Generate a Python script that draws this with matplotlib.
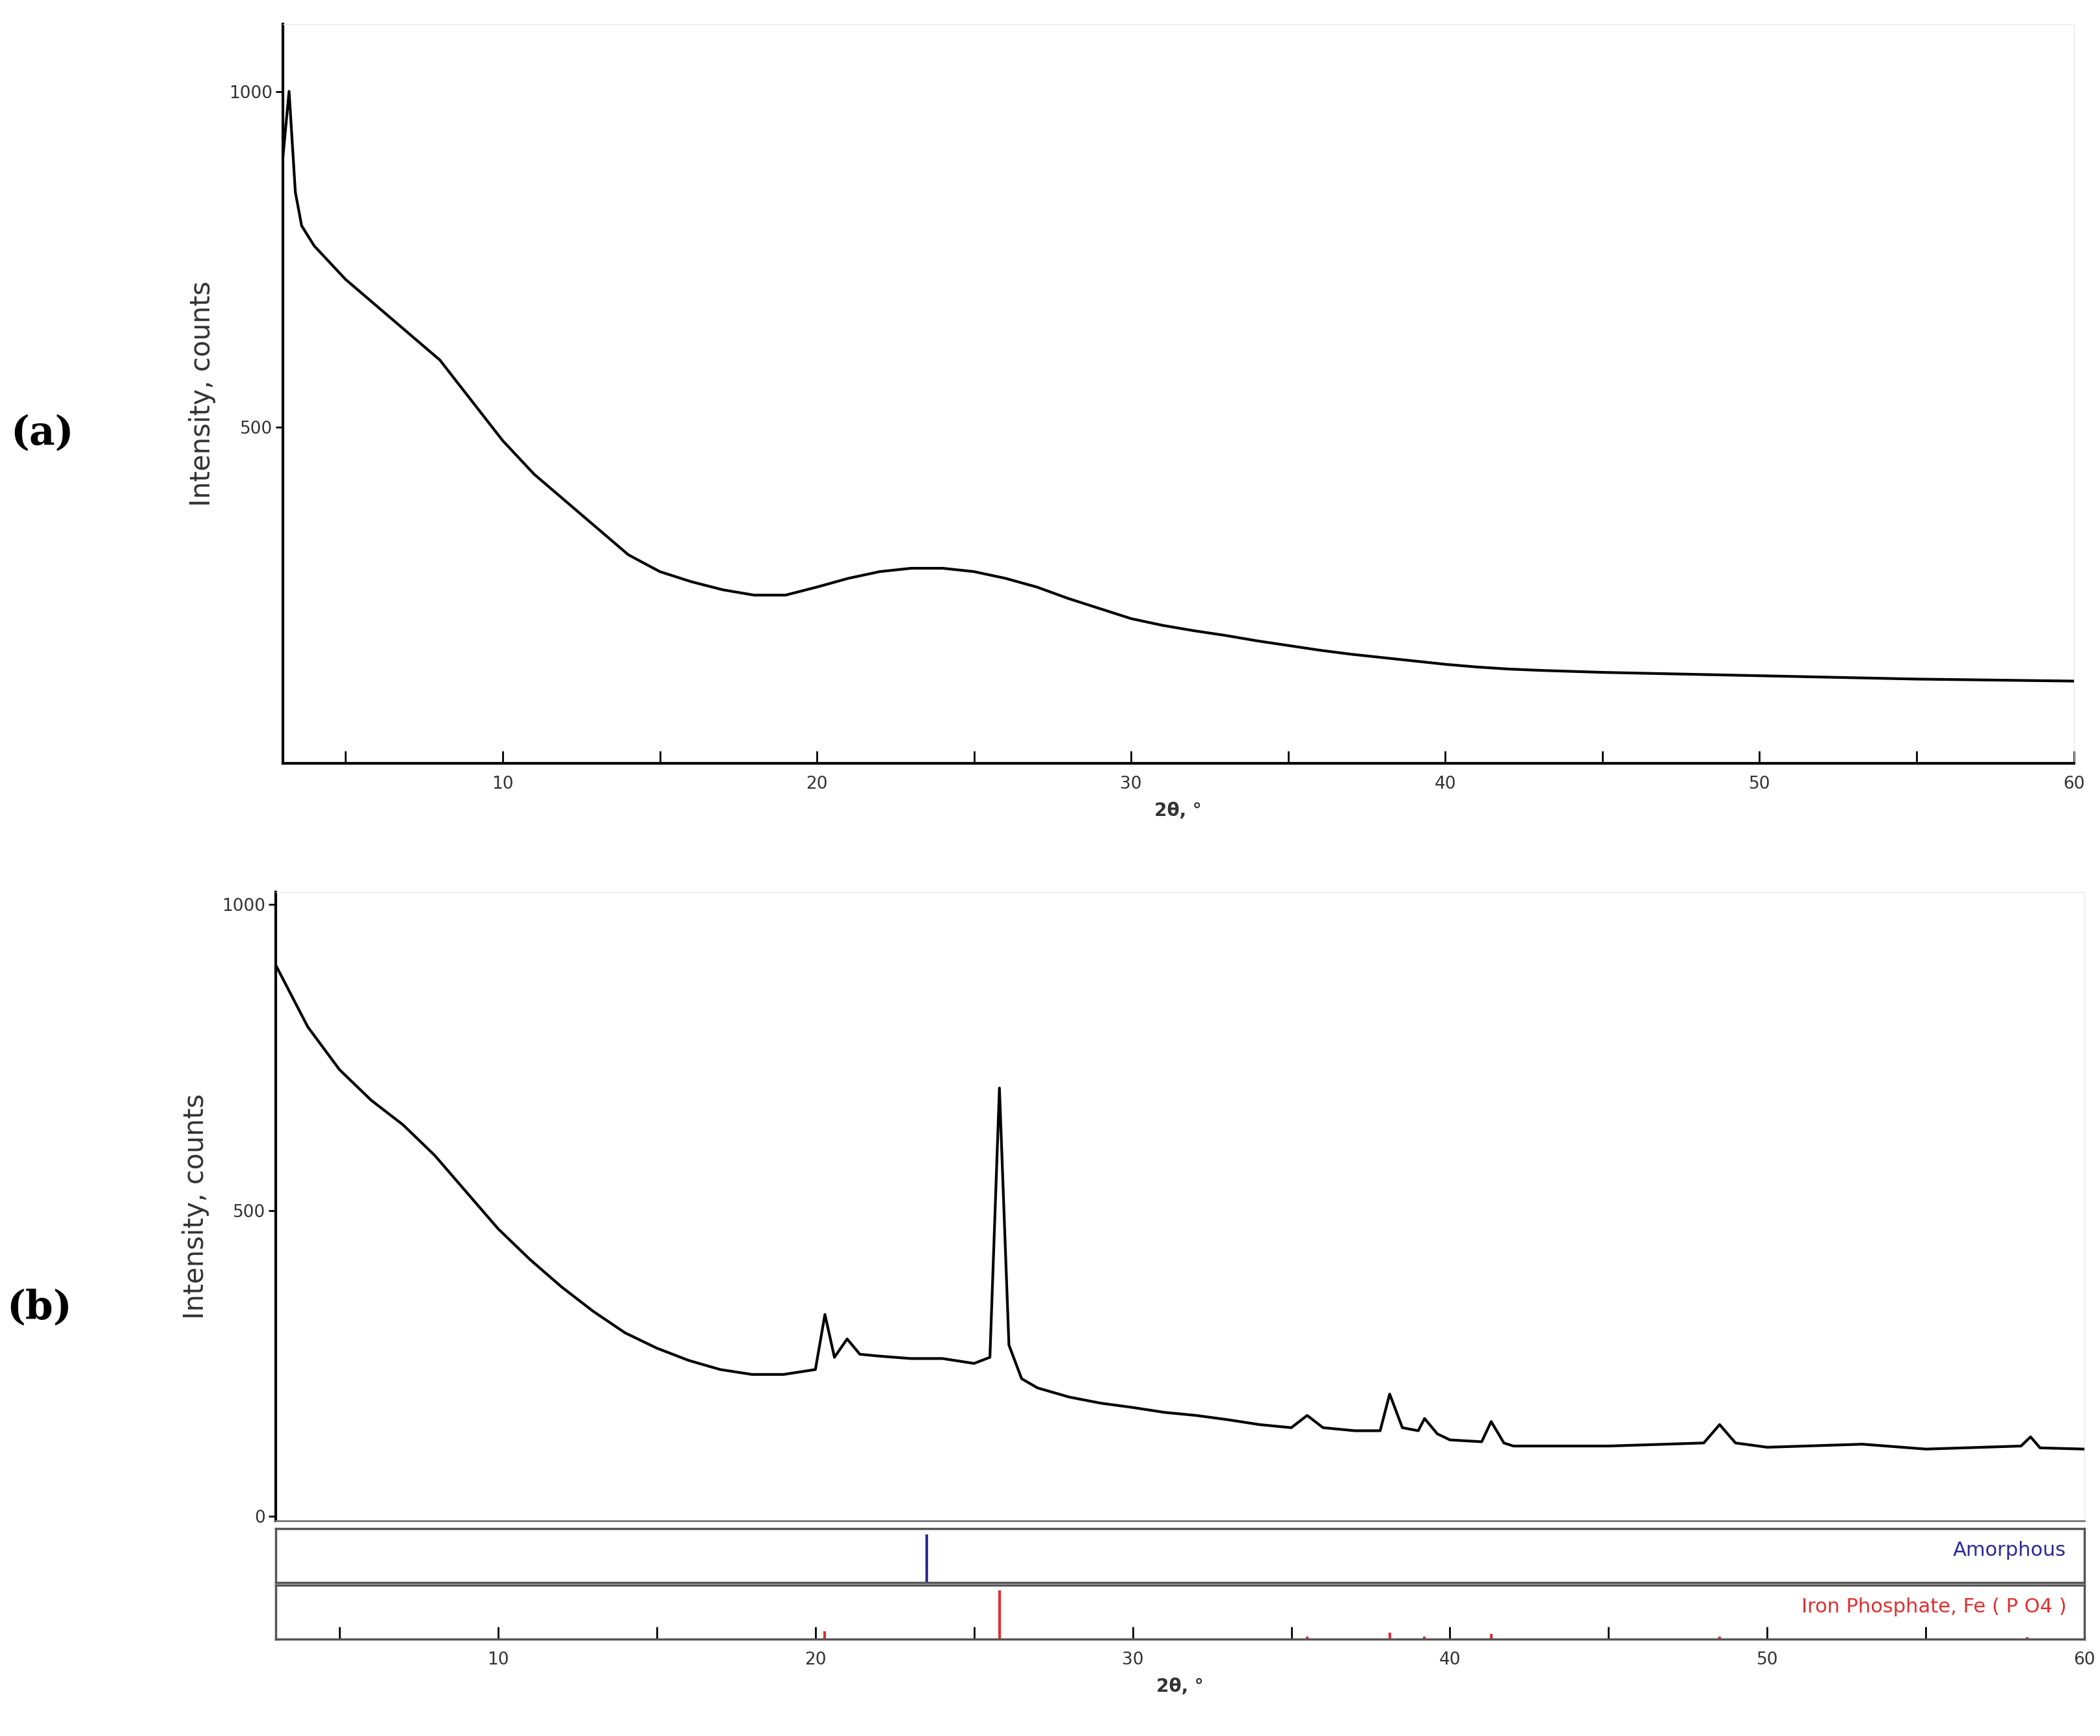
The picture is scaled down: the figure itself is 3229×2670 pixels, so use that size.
import matplotlib
matplotlib.use("Agg")
import matplotlib.pyplot as plt

# panel (a): amorphous halo
a_theta = [3, 3.2, 3.4, 3.6, 4, 5, 6, 7, 8, 9, 10, 11, 12, 13, 14, 15, 16, 17, 18, 19, 20,
           21, 22, 23, 24, 25, 26, 27, 28, 29, 30, 31, 32, 33, 34, 35, 36, 37, 38, 39,
           40, 41, 42, 43, 45, 50, 55, 60]
a_int = [900, 1000, 850, 800, 770, 720, 680, 640, 600, 540, 480, 430, 390, 350, 310, 285,
         270, 258, 250, 250, 262, 275, 285, 290, 290, 285, 275, 262, 245, 230, 215,
         205, 197, 190, 182, 175, 168, 162, 157, 152, 147, 143, 140, 138, 135, 130,
         125, 122]

# panel (b): pattern with FePO4 reflections
b_theta = [3, 4, 5, 6, 7, 8, 9, 10, 11, 12, 13, 14, 15, 16, 17, 18, 19, 20, 20.3, 20.6,
           21, 21.4, 22, 23, 24, 25, 25.5, 25.8, 26.1, 26.5, 27, 28, 29, 30, 31, 32, 33,
           34, 35, 35.5, 36, 37, 37.8, 38.1, 38.5, 39, 39.2, 39.6, 40, 41, 41.3, 41.7,
           42, 45, 48, 48.5, 49, 50, 53, 55, 58, 58.3, 58.6, 60]
b_int = [900, 800, 730, 680, 640, 590, 530, 470, 420, 375, 335, 300, 275, 255, 240,
         232, 232, 240, 330, 260, 290, 265, 262, 258, 258, 250, 260, 700, 280, 225,
         210, 195, 185, 178, 170, 165, 158, 150, 145, 165, 145, 140, 140, 200, 145,
         140, 160, 135, 125, 122, 155, 120, 115, 115, 120, 150, 120, 113, 118, 110,
         115, 130, 112, 110]

amorph_pos = [23.5]
amorph_h = [0.9]
fepo4_pos = [20.3, 25.8, 35.5, 38.1, 39.2, 41.3, 48.5, 58.2]
fepo4_h = [0.15, 0.9, 0.05, 0.12, 0.05, 0.1, 0.05, 0.04]

fig = plt.figure(figsize=(32.3, 26.7), dpi=100)
W, H = 1560, 1290


def box(l, t, r, b):
    return [l / W, 1 - b / H, (r - l) / W, (b - t) / H]


def style(ax, xlabels=True):
    ax.set_xlim(3, 60)
    for s in ["top", "right"]:
        ax.spines[s].set_color("#e6e6e6")
    for s in ["left", "bottom"]:
        ax.spines[s].set_linewidth(3)
    ax.set_xticks([10, 20, 30, 40, 50, 60])
    ax.set_xticks([5, 15, 25, 35, 45, 55], minor=True)
    ax.tick_params(axis="x", which="both", direction="in", length=14, width=2,
                   labelsize=19, labelcolor="#333333", pad=14)
    ax.tick_params(axis="y", direction="out", length=8, width=2,
                   labelsize=19, labelcolor="#333333")
    if not xlabels:
        ax.tick_params(axis="x", which="both", labelbottom=False, length=0)


ax1 = fig.add_axes(box(210, 18, 1540, 567))
ax1.plot(a_theta, a_int, color="black", lw=3)
ax1.set_ylim(0, 1100)
ax1.set_yticks([500, 1000])
style(ax1)
ax1.set_ylabel("Intensity, counts", fontsize=30, color="#333333", labelpad=14)
ax1.set_xlabel("2θ, °", fontsize=20, fontweight="bold", color="#333333", labelpad=10)

ax2 = fig.add_axes(box(205, 663, 1548, 1130))
ax2.plot(b_theta, b_int, color="black", lw=3)
ax2.set_ylim(-7, 1020)
ax2.set_yticks([0, 500, 1000])
style(ax2, xlabels=False)
ax2.spines["bottom"].set_linewidth(2)
ax2.spines["bottom"].set_color("#777777")
ax2.set_ylabel("Intensity, counts", fontsize=30, color="#333333", labelpad=14)

ax3 = fig.add_axes(box(205, 1136, 1548, 1176))
ax3.vlines(amorph_pos, 0, amorph_h, color="#2a2a9a", lw=3)
ax3.set_ylim(0, 1)
ax3.set_yticks([])
ax3.set_xlim(3, 60)
ax3.set_xticks([])
ax3.text(0.99, 0.6, "Amorphous", transform=ax3.transAxes, ha="right", va="center",
         fontsize=22, color="#2a2a9a")

ax4 = fig.add_axes(box(205, 1178, 1548, 1218))
ax4.vlines(fepo4_pos, 0, fepo4_h, color="#e03030", lw=3)
ax4.set_ylim(0, 1)
ax4.set_yticks([])
style(ax4)
ax4.text(0.99, 0.6, "Iron Phosphate, Fe ( P O4 )", transform=ax4.transAxes,
         ha="right", va="center", fontsize=22, color="#e03030")
ax4.set_xlabel("2θ, °", fontsize=20, fontweight="bold", color="#333333", labelpad=10)
for ax in (ax3, ax4):
    for s in ax.spines.values():
        s.set_linewidth(2.5)
        s.set_color("#555555")

fig.text(8 / W, 1 - 330 / H, "(a)", fontsize=44, fontweight="bold", family="DejaVu Serif")
fig.text(5 / W, 1 - 980 / H, "(b)", fontsize=44, fontweight="bold", family="DejaVu Serif")

fig.savefig("out.png", dpi=100)
